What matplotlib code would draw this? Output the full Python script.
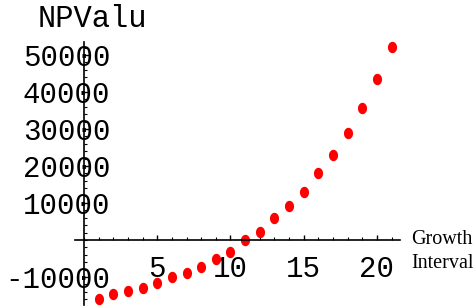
import matplotlib
matplotlib.use("Agg")
import matplotlib.pyplot as plt
import numpy as np
from matplotlib.path import Path
from matplotlib.ticker import MultipleLocator

# Data
growth_interval = list(range(1, 22))
np_value = [-15900, -14600, -13800, -13000, -11600, -10000, -8800, -7300,
            -5100, -3200, 0, 2200, 5900, 9300, 12900, 18000, 23000, 28800,
            35600, 43400, 52100]
x_ticks = [5, 10, 15, 20]
x_tick_labels = ["5", "10", "15", "20"]
y_ticks = [-10000, 10000, 20000, 30000, 40000, 50000]
y_tick_labels = ["-10000", "10000", "20000", "30000", "40000", "50000"]

W, H = 474, 306
fig = plt.figure(figsize=(W / 100, H / 100), dpi=100)
fig.patch.set_facecolor("white")

# axes box in pixels: x 75..400, y 42..305
ax = fig.add_axes([75 / W, (H - 305) / H, (400 - 75) / W, (305 - 42) / H])
ax.set_xlim(-0.614, 21.57)
ax.set_ylim(-17570, 53500)
ax.set_facecolor("none")

for s in ["top", "right"]:
    ax.spines[s].set_visible(False)
ax.spines["left"].set_position(("data", 0))
ax.spines["bottom"].set_position(("data", 0))
for s in ["left", "bottom"]:
    ax.spines[s].set_linewidth(1.2)
    ax.spines[s].set_color("black")

t = np.linspace(0, 2 * np.pi, 60)
ell = Path(np.column_stack([0.8 * np.cos(t), np.sin(t)]))
ax.plot(growth_interval, np_value, linestyle="none", marker=ell,
        markersize=8.2, color="#ff0000", markeredgewidth=0, clip_on=False)

mono = "Liberation Mono"
ax.set_xticks(x_ticks)
ax.set_xticklabels(x_tick_labels, fontfamily=mono, fontsize=21)
ax.xaxis.set_minor_locator(MultipleLocator(1))
ax.set_yticks(y_ticks)
ax.set_yticklabels(y_tick_labels, fontfamily=mono, fontsize=21)
ax.yaxis.set_minor_locator(MultipleLocator(2000))

ax.tick_params(axis="x", which="major", direction="in", length=3.5, width=1,
               pad=11)
ax.tick_params(axis="x", which="minor", direction="in", length=2, width=0.8)
ax.tick_params(axis="y", which="major", direction="in", length=3.5, width=1,
               pad=-19)
ax.tick_params(axis="y", which="minor", direction="in", length=2, width=0.8)

fig.text(38 / W, 1 - 19 / H, "NPValu", fontfamily=mono, fontsize=22,
         ha="left", va="center")
fig.text(411 / W, 1 - 240 / H, "Growth", fontfamily="Liberation Serif",
         fontsize=14.5, ha="left", va="center")
fig.text(411 / W, 1 - 264 / H, "Interval", fontfamily="Liberation Serif",
         fontsize=14.5, ha="left", va="center")

fig.savefig("out.png", dpi=100)
